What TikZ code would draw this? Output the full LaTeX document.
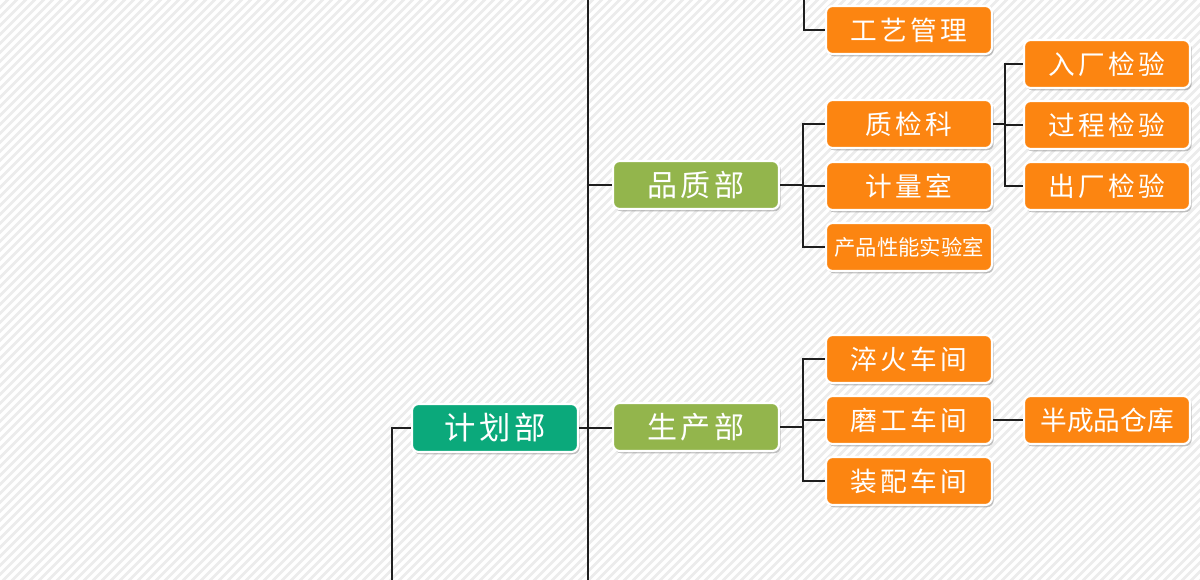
\documentclass[tikz,border=0pt]{standalone}
\usepackage{fontspec}
\usetikzlibrary{shadows}
\newfontfamily\cjk{Noto Sans CJK SC}
\newfontfamily\cjksp[LetterSpace=12]{Noto Sans CJK SC}
\definecolor{bgcol}{HTML}{ECECEC}
\definecolor{teal}{HTML}{0BA97B}
\definecolor{leaf}{HTML}{93B54C}
\definecolor{orng}{HTML}{FC8511}
\definecolor{linec}{HTML}{1E1E1E}
\tikzset{
  box/.style={rounded corners=5pt, draw=white, line width=1.6pt,
    minimum width=124.5pt, minimum height=36pt, text=white, inner sep=0pt,
    drop shadow={shadow xshift=1.3pt, shadow yshift=-1.7pt, opacity=0.35, fill=black!70}},
  tealbox/.style={box, fill=teal, font=\cjksp\fontsize{23.5}{26}\selectfont},
  greenbox/.style={box, fill=leaf, font=\cjksp\fontsize{22.5}{26}\selectfont},
  orbox/.style={box, fill=orng, font=\cjksp\fontsize{20}{24}\selectfont},
  orplain/.style={box, fill=orng, font=\cjk\fontsize{20}{24}\selectfont},
  orsmall/.style={box, fill=orng, font=\cjk\fontsize{16}{18}\selectfont},
  conn/.style={draw=linec, line width=0.95pt}
}
\begin{document}
\begin{tikzpicture}[x=0.75pt,y=-0.75pt]
\useasboundingbox (0,0) rectangle (1200,580);
\fill[bgcol] (0,0) rectangle (1200,580);
\begin{scope}
\clip (0,0) rectangle (1200,580);
\foreach \i in {-600,-591,...,1210} {
  \draw[white, line width=2.6pt] (\i,585) -- (\i+590,-5);
}
\end{scope}

% trunk coordinates
\coordinate (vt) at (588,0);
\coordinate (vb) at (588,580);
\coordinate (lb) at (392,580);
\coordinate (gtop) at (804,0);

% nodes
\node[tealbox] (jh) at (495,428) {计划部};
\node[greenbox] (pz) at (696,185) {品质部};
\node[greenbox] (sc) at (696,427) {生产部};

\node[orbox] (gy) at (909,30) {工艺管理};
\node[orbox] (zj) at (909,124) {质检科};
\node[orbox] (jl) at (909,186) {计量室};
\node[orsmall] (cp) at (909,247) {产品性能实验室};

\node[orbox] (rc) at (1107,64) {入厂检验};
\node[orbox] (gc) at (1107,125) {过程检验};
\node[orbox] (cc) at (1107,186) {出厂检验};

\node[orbox] (ch) at (909,359) {淬火车间};
\node[orbox] (mg) at (909,420) {磨工车间};
\node[orbox] (zp) at (909,481) {装配车间};
\node[orplain] (bc) at (1107,420) {半成品仓库};

% connectors
\draw[conn] (vt) -- (vb);
\draw[conn] (jh.west) -| (lb);
\draw[conn] (jh.east) -- (jh.east -| sc.west);
\draw[conn] (pz.west) -- (pz.west -| vt);
\draw[conn] (gy.west) -| (gtop);

\foreach \c in {zj,jl,cp} {
  \draw[conn] (\c.west) -- ++(-22,0) |- (pz.east);
}
\foreach \c in {rc,gc,cc} {
  \draw[conn] (\c.west) -- ++(-18,0) |- (zj.east);
}
\foreach \c in {ch,mg,zp} {
  \draw[conn] (\c.west) -- ++(-22,0) |- (sc.east);
}
\draw[conn] (mg.east) -- (bc.west);
\end{tikzpicture}
\end{document}
